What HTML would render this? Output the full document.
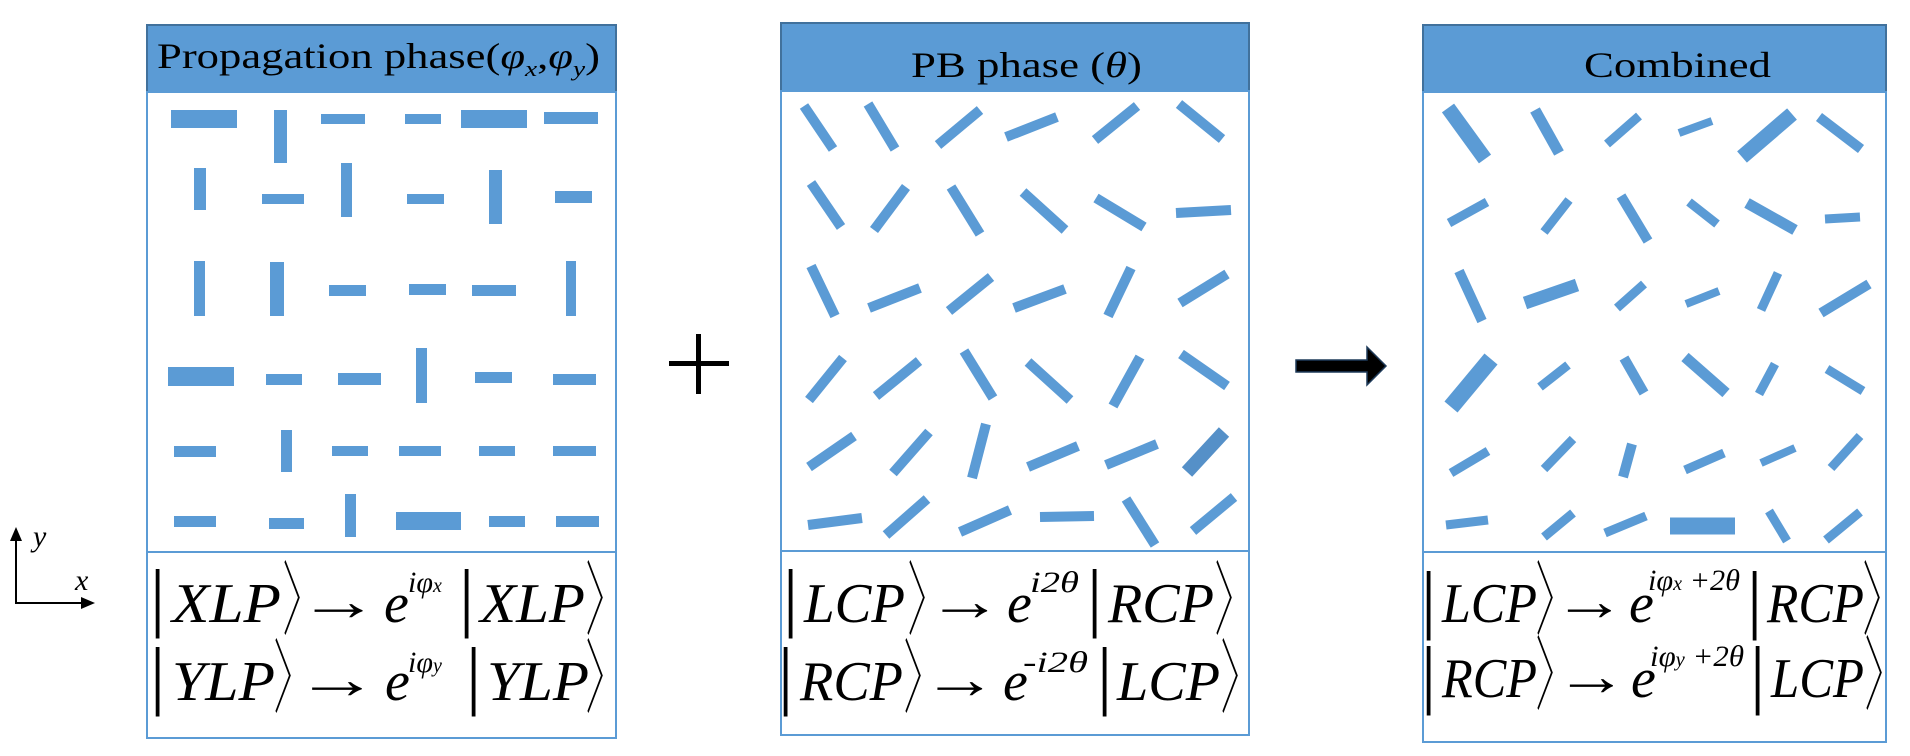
<!DOCTYPE html>
<html><head><meta charset="utf-8"><style>html,body{margin:0;padding:0;background:#fff}svg{display:block}</style></head>
<body>
<svg width="1910" height="756" viewBox="0 0 1910 756" xmlns="http://www.w3.org/2000/svg" font-family="'Liberation Serif', 'DejaVu Serif', serif">
<defs>
<style>
.hd{fill:#5b9bd5;stroke:#41719c;stroke-width:2}
.bx{fill:none;stroke:#5b9bd5;stroke-width:2}
.b line{stroke:#5b9bd5;stroke-width:10}
.f{font-style:italic;font-size:56px;fill:#000}
.d{font-size:76px;fill:#000;font-style:normal}
.k{font-size:80px;fill:#000;font-style:normal;font-family:'Noto Serif CJK SC','Noto Sans CJK SC',serif;font-weight:300}
.ar{font-size:56px;font-style:normal}
.sp{font-size:30px;font-style:italic}
.ss{font-size:20px;font-style:italic}
.h{font-size:36px;fill:#000}
</style>
</defs>

<!-- Panel 1 -->
<rect class="hd" x="147" y="25" width="469" height="67"/>
<rect class="bx" x="147" y="92" width="469" height="460"/>
<rect class="bx" x="147" y="552" width="469" height="186"/>
<text class="h" x="157" y="68" textLength="443" lengthAdjust="spacingAndGlyphs">Propagation phase<tspan>(</tspan><tspan font-style="italic">φ</tspan><tspan font-size="22" font-style="italic" dy="8">x</tspan><tspan dy="-8">,</tspan><tspan font-style="italic">φ</tspan><tspan font-size="22" font-style="italic" dy="8">y</tspan><tspan dy="-8">)</tspan></text>
<g fill="#5b9bd5">
<rect x="171" y="110" width="66" height="18"/><rect x="274" y="110" width="13" height="53"/><rect x="321" y="114" width="44" height="10"/><rect x="405" y="114" width="36" height="10"/><rect x="461" y="110" width="66" height="18"/><rect x="544" y="112" width="54" height="12"/>
<rect x="194" y="168" width="12" height="42"/><rect x="262" y="194" width="42" height="10"/><rect x="341" y="163" width="11" height="54"/><rect x="407" y="194" width="37" height="10"/><rect x="489" y="170" width="13" height="54"/><rect x="555" y="191" width="37" height="12"/>
<rect x="194" y="261" width="11" height="55"/><rect x="270" y="262" width="14" height="54"/><rect x="329" y="285" width="37" height="11"/><rect x="409" y="284" width="37" height="11"/><rect x="472" y="285" width="44" height="11"/><rect x="566" y="261" width="10" height="55"/>
<rect x="168" y="367" width="66" height="19"/><rect x="266" y="374" width="36" height="11"/><rect x="338" y="373" width="43" height="12"/><rect x="416" y="348" width="11" height="55"/><rect x="475" y="372" width="37" height="11"/><rect x="553" y="374" width="43" height="11"/>
<rect x="174" y="446" width="42" height="11"/><rect x="281" y="430" width="11" height="42"/><rect x="332" y="446" width="36" height="10"/><rect x="399" y="446" width="42" height="10"/><rect x="479" y="446" width="36" height="10"/><rect x="553" y="446" width="43" height="10"/>
<rect x="174" y="516" width="42" height="11"/><rect x="269" y="518" width="35" height="11"/><rect x="345" y="494" width="11" height="43"/><rect x="396" y="512" width="65" height="18"/><rect x="489" y="516" width="36" height="11"/><rect x="556" y="516" width="43" height="11"/>
</g>
<g class="f">
<text class="d" x="150" y="622">|</text>
<text x="172" y="622" textLength="109" lengthAdjust="spacingAndGlyphs">XLP</text>
<text class="k" transform="translate(283,628) scale(0.45,1)">〉</text>
<text class="ar" transform="translate(298,620) scale(1.45,1)">→</text>
<text x="384" y="622">e</text>
<text class="sp" x="408" y="592">iφ<tspan class="ss">x</tspan></text>
<text class="d" x="459" y="622">|</text>
<text x="480" y="622" textLength="105" lengthAdjust="spacingAndGlyphs">XLP</text>
<text class="k" transform="translate(586,628) scale(0.45,1)">〉</text>

<text class="d" x="150" y="700">|</text>
<text x="172" y="700" textLength="103" lengthAdjust="spacingAndGlyphs">YLP</text>
<text class="k" transform="translate(274,706) scale(0.45,1)">〉</text>
<text class="ar" transform="translate(295,698) scale(1.5,1)">→</text>
<text x="385" y="700">e</text>
<text class="sp" x="408" y="672">iφ<tspan class="ss">y</tspan></text>
<text class="d" x="466" y="700">|</text>
<text x="487" y="700" textLength="102" lengthAdjust="spacingAndGlyphs">YLP</text>
<text class="k" transform="translate(586,706) scale(0.45,1)">〉</text>
</g>

<!-- plus -->
<rect x="669" y="361" width="60" height="5" fill="#000"/>
<rect x="696" y="334" width="5" height="60" fill="#000"/>

<!-- Panel 2 -->
<rect class="hd" x="781" y="23" width="468" height="68"/>
<rect class="bx" x="781" y="91" width="468" height="460"/>
<rect class="bx" x="781" y="551" width="468" height="184"/>
<text class="h" x="911" y="77" textLength="231" lengthAdjust="spacingAndGlyphs">PB phase (<tspan font-style="italic">θ</tspan>)</text>
<g class="b">
<line x1="804" y1="106" x2="833" y2="149"/><line x1="868" y1="104" x2="895" y2="149"/><line x1="980" y1="110" x2="938" y2="145"/><line x1="1057" y1="117" x2="1006" y2="137"/><line x1="1137" y1="106" x2="1095" y2="140"/><line x1="1179" y1="104" x2="1222" y2="139"/>
<line x1="811" y1="183" x2="841" y2="227"/><line x1="906" y1="187" x2="874" y2="230"/><line x1="951" y1="187" x2="980" y2="234"/><line x1="1023" y1="192" x2="1065" y2="230"/><line x1="1096" y1="198" x2="1144" y2="227"/><line x1="1176" y1="213" x2="1231" y2="210"/>
<line x1="811" y1="266" x2="835" y2="316"/><line x1="869" y1="308" x2="920" y2="288"/><line x1="949" y1="311" x2="991" y2="277"/><line x1="1014" y1="308" x2="1065" y2="289"/><line x1="1131" y1="268" x2="1108" y2="316"/><line x1="1227" y1="274" x2="1180" y2="303"/>
<line x1="843" y1="358" x2="809" y2="400"/><line x1="919" y1="361" x2="876" y2="396"/><line x1="964" y1="351" x2="993" y2="398"/><line x1="1028" y1="362" x2="1070" y2="400"/><line x1="1140" y1="357" x2="1113" y2="406"/><line x1="1181" y1="354" x2="1227" y2="386"/>
<line x1="854" y1="436" x2="809" y2="467"/><line x1="929" y1="432" x2="893" y2="473"/><line x1="986" y1="424" x2="972" y2="478"/><line x1="1078" y1="446" x2="1028" y2="467"/><line x1="1157" y1="444" x2="1106" y2="465"/><line x1="1224" y1="432" x2="1187" y2="472" style="stroke-width:14;stroke:#5590c8"/>
<line x1="808" y1="525" x2="862" y2="518"/><line x1="927" y1="499" x2="886" y2="535"/><line x1="1010" y1="510" x2="960" y2="532"/><line x1="1040" y1="517" x2="1094" y2="516"/><line x1="1126" y1="499" x2="1155" y2="545"/><line x1="1234" y1="497" x2="1193" y2="531"/>
</g>
<g class="f">
<text class="d" x="783" y="622">|</text>
<text x="804" y="622" textLength="101" lengthAdjust="spacingAndGlyphs">LCP</text>
<text class="k" transform="translate(908,628) scale(0.45,1)">〉</text>
<text class="ar" transform="translate(927,620) scale(1.35,1)">→</text>
<text x="1007" y="622">e</text>
<text class="sp" x="1030" y="592" textLength="49" lengthAdjust="spacingAndGlyphs">i2θ</text>
<text class="d" x="1087" y="622">|</text>
<text x="1108" y="622" textLength="106" lengthAdjust="spacingAndGlyphs">RCP</text>
<text class="k" transform="translate(1215,628) scale(0.45,1)">〉</text>

<text class="d" x="778" y="700">|</text>
<text x="800" y="700" textLength="103" lengthAdjust="spacingAndGlyphs">RCP</text>
<text class="k" transform="translate(904,706) scale(0.45,1)">〉</text>
<text class="ar" transform="translate(922,698) scale(1.35,1)">→</text>
<text x="1003" y="700">e</text>
<text class="sp" x="1023" y="672" textLength="65" lengthAdjust="spacingAndGlyphs">-i2θ</text>
<text class="d" x="1097" y="700">|</text>
<text x="1117" y="700" textLength="103" lengthAdjust="spacingAndGlyphs">LCP</text>
<text class="k" transform="translate(1221,706) scale(0.45,1)">〉</text>
</g>

<!-- big arrow -->
<polygon points="1296,360 1367,360 1367,347 1386,366 1367,385 1367,372 1296,372" fill="#000" stroke="#1f3b5a" stroke-width="1.5"/>

<!-- Panel 3 -->
<rect class="hd" x="1423" y="25" width="463" height="67"/>
<rect class="bx" x="1423" y="92" width="463" height="460"/>
<rect class="bx" x="1423" y="552" width="463" height="190"/>
<text class="h" x="1584" y="77" textLength="187" lengthAdjust="spacingAndGlyphs">Combined</text>
<g class="b">
<line x1="1448" y1="108" x2="1485" y2="159" style="stroke-width:15"/><line x1="1535" y1="110" x2="1559" y2="153" style="stroke-width:11"/><line x1="1639" y1="116" x2="1607" y2="144" style="stroke-width:9"/><line x1="1712" y1="121" x2="1679" y2="133" style="stroke-width:8"/><line x1="1792" y1="114" x2="1742" y2="157" style="stroke-width:15"/><line x1="1819" y1="117" x2="1861" y2="149"/>
<line x1="1487" y1="202" x2="1449" y2="223" style="stroke-width:9"/><line x1="1569" y1="200" x2="1544" y2="232" style="stroke-width:9"/><line x1="1621" y1="196" x2="1648" y2="241"/><line x1="1689" y1="202" x2="1717" y2="224" style="stroke-width:9"/><line x1="1747" y1="203" x2="1795" y2="230" style="stroke-width:11"/><line x1="1825" y1="219" x2="1860" y2="217" style="stroke-width:9"/>
<line x1="1459" y1="271" x2="1482" y2="321"/><line x1="1525" y1="303" x2="1577" y2="285" style="stroke-width:13"/><line x1="1644" y1="284" x2="1617" y2="308" style="stroke-width:9"/><line x1="1719" y1="291" x2="1686" y2="304" style="stroke-width:8"/><line x1="1778" y1="273" x2="1761" y2="310" style="stroke-width:9"/><line x1="1869" y1="284" x2="1821" y2="313"/>
<line x1="1491" y1="359" x2="1451" y2="407" style="stroke-width:17"/><line x1="1568" y1="365" x2="1540" y2="387" style="stroke-width:9"/><line x1="1624" y1="358" x2="1644" y2="393"/><line x1="1685" y1="357" x2="1726" y2="393" style="stroke-width:11"/><line x1="1775" y1="364" x2="1759" y2="394" style="stroke-width:9"/><line x1="1827" y1="369" x2="1863" y2="391" style="stroke-width:9"/>
<line x1="1488" y1="451" x2="1451" y2="473" style="stroke-width:9"/><line x1="1573" y1="439" x2="1544" y2="469" style="stroke-width:9"/><line x1="1632" y1="444" x2="1623" y2="477"/><line x1="1724" y1="453" x2="1685" y2="470" style="stroke-width:9"/><line x1="1795" y1="448" x2="1761" y2="463" style="stroke-width:8"/><line x1="1860" y1="436" x2="1831" y2="468" style="stroke-width:9"/>
<line x1="1446" y1="525" x2="1488" y2="520" style="stroke-width:9"/><line x1="1573" y1="513" x2="1544" y2="537" style="stroke-width:9"/><line x1="1646" y1="516" x2="1605" y2="533" style="stroke-width:9"/><line x1="1670" y1="526" x2="1735" y2="526" style="stroke-width:17"/><line x1="1769" y1="511" x2="1787" y2="541" style="stroke-width:9"/><line x1="1860" y1="512" x2="1826" y2="540" style="stroke-width:9"/>
</g>
<g class="f">
<text class="d" x="1421" y="624">|</text>
<text x="1442" y="622" textLength="95" lengthAdjust="spacingAndGlyphs">LCP</text>
<text class="k" transform="translate(1536,628) scale(0.45,1)">〉</text>
<text class="ar" transform="translate(1553,620) scale(1.3,1)">→</text>
<text x="1629" y="622">e</text>
<text class="sp" x="1648" y="590" textLength="92" lengthAdjust="spacingAndGlyphs">iφ<tspan class="ss">x</tspan> +2θ</text>
<text class="d" x="1747" y="624">|</text>
<text x="1767" y="622" textLength="97" lengthAdjust="spacingAndGlyphs">RCP</text>
<text class="k" transform="translate(1863,628) scale(0.45,1)">〉</text>

<text class="d" x="1421" y="699">|</text>
<text x="1442" y="697" textLength="95" lengthAdjust="spacingAndGlyphs">RCP</text>
<text class="k" transform="translate(1536,703) scale(0.45,1)">〉</text>
<text class="ar" transform="translate(1555,695) scale(1.3,1)">→</text>
<text x="1631" y="697">e</text>
<text class="sp" x="1650" y="666" textLength="94" lengthAdjust="spacingAndGlyphs">iφ<tspan class="ss">y</tspan> +2θ</text>
<text class="d" x="1750" y="699">|</text>
<text x="1771" y="697" textLength="93" lengthAdjust="spacingAndGlyphs">LCP</text>
<text class="k" transform="translate(1865,703) scale(0.45,1)">〉</text>
</g>

<!-- axes -->
<line x1="16" y1="603" x2="16" y2="538" stroke="#000" stroke-width="2"/>
<polygon points="16,527 10,541 22,541" fill="#000"/>
<line x1="15" y1="603" x2="84" y2="603" stroke="#000" stroke-width="2"/>
<polygon points="95,603 81,597 81,609" fill="#000"/>
<text x="33" y="546" font-size="30" font-style="italic">y</text>
<text x="75" y="590" font-size="30" font-style="italic">x</text>
</svg>
</body></html>
